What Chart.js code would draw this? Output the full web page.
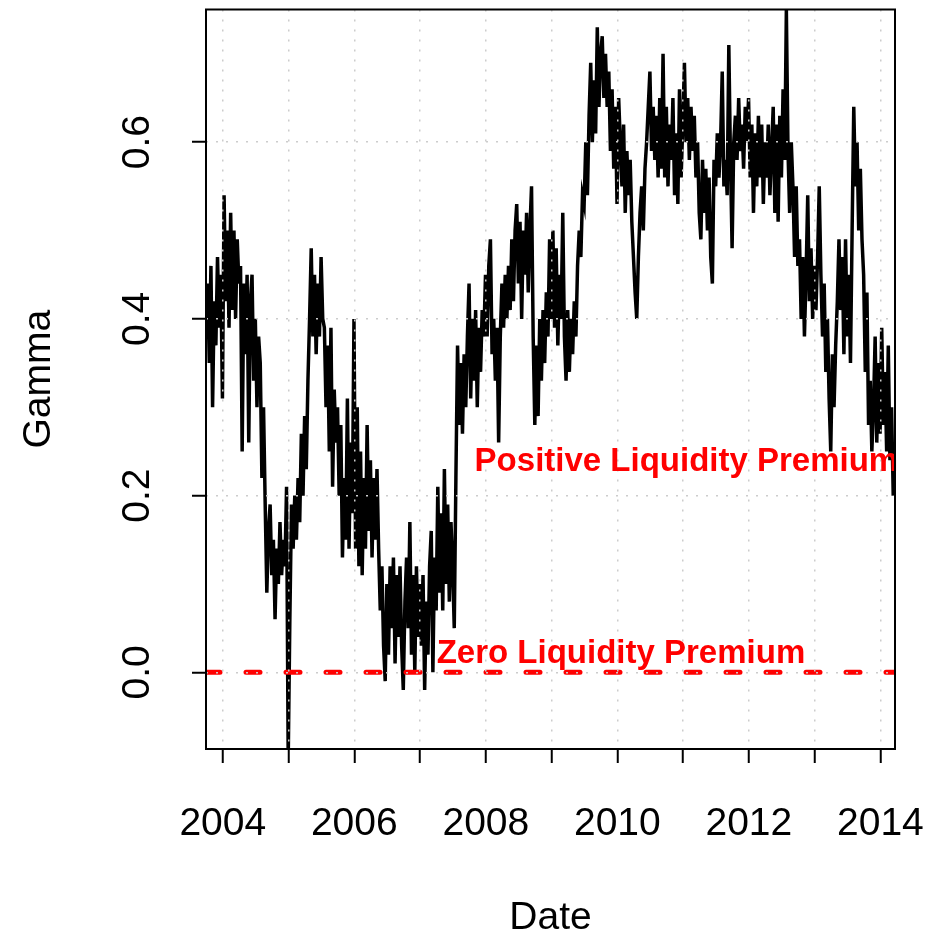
<!DOCTYPE html>
<html>
<head>
<meta charset="utf-8">
<script src="https://cdn.jsdelivr.net/npm/chart.js@4/dist/chart.umd.min.js"></script>
<style>
  html, body { margin: 0; padding: 0; background: #ffffff; }
  canvas { display: block; }
</style>
</head>
<body>
<canvas id="c" width="940" height="938"></canvas>
<script>
// ---------------- data ----------------
// Gamma series, sampled every 1/40 year starting late 2003
const seriesStart = 2003.745;
const seriesStep = 1 / 40;
const gamma = [
  0.38, 0.44, 0.35, 0.46, 0.30, 0.42, 0.37, 0.47, 0.39, 0.45, 0.31, 0.54, 0.42, 0.50, 0.39, 0.52, 0.41, 0.50, 0.40, 0.49,
  0.44, 0.46, 0.25, 0.44, 0.36, 0.45, 0.26, 0.42, 0.45, 0.33, 0.40, 0.30, 0.38, 0.35, 0.22, 0.30, 0.19, 0.09, 0.16, 0.19,
  0.11, 0.15, 0.06, 0.14, 0.10, 0.17, 0.11, 0.15, 0.12, 0.21, -0.10, 0.06, 0.19, 0.14, 0.20, 0.15, 0.22, 0.17, 0.27, 0.20,
  0.29, 0.23, 0.33, 0.40, 0.48, 0.38, 0.45, 0.36, 0.44, 0.38, 0.47, 0.40, 0.39, 0.30, 0.37, 0.25, 0.39, 0.21, 0.32, 0.26,
  0.30, 0.20, 0.28, 0.13, 0.22, 0.15, 0.31, 0.14, 0.26, 0.18, 0.40, 0.14, 0.30, 0.12, 0.25, 0.11, 0.22, 0.14, 0.28, 0.16,
  0.24, 0.13, 0.22, 0.15, 0.23, 0.14, 0.07, 0.12, 0.03, -0.01, 0.10, 0.02, 0.12, 0.05, 0.13, 0.01, 0.11, 0.04, 0.12, 0.03,
  -0.02, 0.08, 0.13, 0.05, 0.17, 0.02, 0.11, 0.00, 0.12, 0.04, 0.10, 0.03, 0.11, -0.02, 0.08, 0.02, 0.12, 0.16, 0.00, 0.13,
  0.07, 0.21, 0.09, 0.18, 0.07, 0.23, 0.10, 0.19, 0.08, 0.17, 0.12, 0.05, 0.22, 0.37, 0.28, 0.35, 0.27, 0.36, 0.30, 0.38,
  0.44, 0.31, 0.40, 0.33, 0.41, 0.30, 0.39, 0.34, 0.41, 0.38, 0.45, 0.38, 0.46, 0.49, 0.36, 0.40, 0.33, 0.39, 0.26, 0.38,
  0.44, 0.39, 0.45, 0.40, 0.46, 0.41, 0.49, 0.42, 0.50, 0.53, 0.44, 0.51, 0.40, 0.50, 0.45, 0.52, 0.43, 0.50, 0.55, 0.38,
  0.28, 0.37, 0.29, 0.40, 0.33, 0.41, 0.35, 0.43, 0.38, 0.49, 0.40, 0.50, 0.39, 0.48, 0.37, 0.45, 0.40, 0.52, 0.38, 0.33,
  0.41, 0.34, 0.40, 0.36, 0.42, 0.38, 0.46, 0.50, 0.47, 0.54, 0.53, 0.60, 0.54, 0.63, 0.69, 0.60, 0.67, 0.61, 0.73, 0.64,
  0.70, 0.72, 0.65, 0.70, 0.64, 0.68, 0.59, 0.66, 0.57, 0.64, 0.53, 0.65, 0.60, 0.55, 0.62, 0.52, 0.59, 0.54, 0.58, 0.51,
  0.47, 0.43, 0.40, 0.47, 0.52, 0.55, 0.50, 0.57, 0.60, 0.64, 0.68, 0.59, 0.64, 0.58, 0.63, 0.56, 0.65, 0.57, 0.70, 0.56,
  0.64, 0.55, 0.62, 0.58, 0.65, 0.54, 0.61, 0.53, 0.66, 0.56, 0.62, 0.69, 0.60, 0.65, 0.58, 0.64, 0.59, 0.63, 0.56, 0.60,
  0.52, 0.49, 0.58, 0.52, 0.57, 0.50, 0.56, 0.47, 0.44, 0.58, 0.55, 0.61, 0.56, 0.60, 0.68, 0.55, 0.58, 0.54, 0.71, 0.58,
  0.48, 0.60, 0.63, 0.58, 0.65, 0.59, 0.62, 0.57, 0.64, 0.60, 0.65, 0.56, 0.62, 0.52, 0.61, 0.55, 0.63, 0.56, 0.62, 0.53,
  0.60, 0.56, 0.62, 0.54, 0.59, 0.64, 0.52, 0.62, 0.51, 0.63, 0.56, 0.66, 0.58, 0.75, 0.59, 0.52, 0.60, 0.55, 0.47, 0.55,
  0.46, 0.49, 0.40, 0.47, 0.38, 0.45, 0.54, 0.42, 0.48, 0.40, 0.46, 0.41, 0.47, 0.55, 0.45, 0.38, 0.44, 0.34, 0.40, 0.31,
  0.25, 0.36, 0.30, 0.37, 0.42, 0.49, 0.41, 0.47, 0.36, 0.49, 0.38, 0.45, 0.35, 0.50, 0.64, 0.55, 0.60, 0.50, 0.57, 0.49,
  0.45, 0.34, 0.43, 0.28, 0.33, 0.25, 0.30, 0.38, 0.26, 0.35, 0.27, 0.39, 0.28, 0.34, 0.25, 0.37, 0.24, 0.30, 0.20
];

// axis ticks
const yearTicks = [2004, 2005, 2006, 2007, 2008, 2009, 2010, 2011, 2012, 2013, 2014];
const yearLabels = ['2004', '', '2006', '', '2008', '', '2010', '', '2012', '', '2014'];
const gammaTicks = [0.0, 0.2, 0.4, 0.6];
const gammaTickLabels = ['0.0', '0.2', '0.4', '0.6'];

// reference level and annotations
const zeroLevel = [0, 0];
const noteTexts = ['Positive Liquidity Premium', 'Zero Liquidity Premium'];
const noteYears = [2011.05, 2010.055];
const noteGammas = [0.238, 0.021];

// ---------------- chart ----------------
const X_MIN = 2003.745, X_MAX = 2014.222;
const Y_MIN = -0.0868, Y_MAX = 0.7502;
const FONT = '"Liberation Sans", Arial, Helvetica, sans-serif';

const points = gamma.map((g, i) => ({ x: seriesStart + i * seriesStep, y: g }));
const zeroPoints = [{ x: X_MIN, y: zeroLevel[0] }, { x: X_MAX, y: zeroLevel[1] }];

const overlay = {
  id: 'overlay',
  afterDraw(chart) {
    const { ctx, chartArea: a, scales: { x, y } } = chart;
    ctx.save();
    // annotations
    ctx.fillStyle = '#ff0000';
    ctx.font = 'bold 33px ' + FONT;
    ctx.textAlign = 'center';
    ctx.textBaseline = 'middle';
    noteTexts.forEach((t, i) => {
      ctx.fillText(t, x.getPixelForValue(noteYears[i]), y.getPixelForValue(noteGammas[i]));
    });
    // box
    ctx.strokeStyle = '#000';
    ctx.lineWidth = 2;
    ctx.strokeRect(a.left, a.top, a.right - a.left, a.bottom - a.top);
    // rotated y tick labels
    ctx.fillStyle = '#000';
    ctx.font = '39px ' + FONT;
    ctx.textAlign = 'center';
    ctx.textBaseline = 'alphabetic';
    gammaTicks.forEach((v, i) => {
      ctx.save();
      ctx.translate(a.left - 57, y.getPixelForValue(v));
      ctx.rotate(-Math.PI / 2);
      ctx.fillText(gammaTickLabels[i], 0, 0);
      ctx.restore();
    });
    ctx.restore();
  }
};

new Chart(document.getElementById('c'), {
  type: 'line',
  data: {
    datasets: [
      {
        data: zeroPoints,
        borderColor: '#ff0000',
        borderWidth: 5,
        borderDash: [14, 26],
        borderCapStyle: 'round',
        pointRadius: 0,
        order: 0
      },
      {
        data: points,
        borderColor: '#000000',
        borderWidth: 3.5,
        pointRadius: 0,
        tension: 0,
        clip: 0,
        order: 1
      }
    ]
  },
  options: {
    responsive: false,
    animation: false,
    devicePixelRatio: 1,
    layout: { padding: { top: 9.5, right: 45, left: 0, bottom: 0 } },
    plugins: { legend: { display: false }, tooltip: { enabled: false } },
    scales: {
      x: {
        type: 'linear',
        min: X_MIN,
        max: X_MAX,
        afterBuildTicks: s => { s.ticks = yearTicks.map(v => ({ value: v })); },
        afterFit: s => { s.height = 189; s.paddingLeft = 0; s.paddingRight = 0; },
        ticks: {
          autoSkip: false,
          maxRotation: 0,
          padding: 42,
          color: '#000',
          font: { family: FONT, size: 39, lineHeight: 1 },
          callback: (v, i) => yearLabels[i]
        },
        grid: {
          color: '#cccccc',
          lineWidth: 1.5,
          tickColor: '#000',
          tickWidth: 2,
          tickLength: 14,
          z: 1
        },
        border: { display: false, dash: [2, 8] },
        title: {
          display: true,
          text: 'Date',
          color: '#000',
          font: { family: FONT, size: 39, lineHeight: 1 },
          padding: { top: 0, bottom: 0 }
        }
      },
      y: {
        type: 'linear',
        min: Y_MIN,
        max: Y_MAX,
        afterBuildTicks: s => { s.ticks = gammaTicks.map(v => ({ value: v })); },
        afterFit: s => { s.width = 206; s.paddingTop = 0; s.paddingBottom = 0; },
        ticks: { display: false },
        grid: {
          color: '#cccccc',
          lineWidth: 1.5,
          tickColor: '#000',
          tickWidth: 2,
          tickLength: 14,
          z: 1
        },
        border: { display: false, dash: [2, 8] },
        title: {
          display: true,
          text: 'Gamma',
          color: '#000',
          font: { family: FONT, size: 39, lineHeight: 1 },
          padding: { top: 20, bottom: 0 }
        }
      }
    }
  },
  plugins: [overlay]
});
</script>
</body>
</html>
